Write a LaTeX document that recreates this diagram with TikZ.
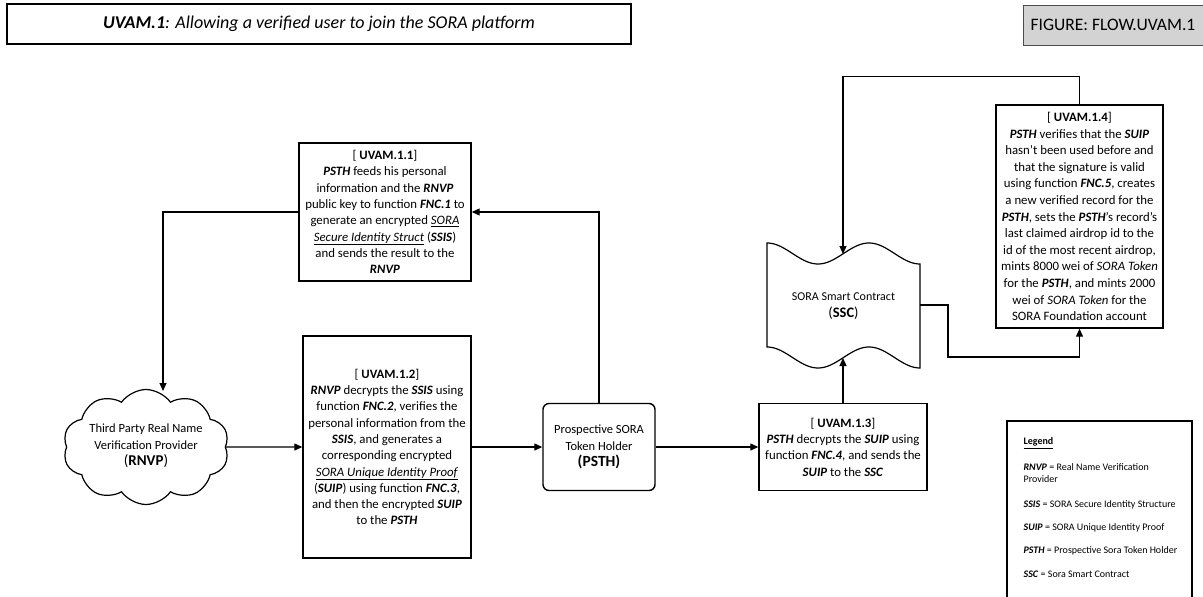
\documentclass[tikz,border=0pt]{standalone}
\usepackage{fontspec}
\setmainfont{Carlito}
\usetikzlibrary{shapes.symbols,arrows.meta}
\definecolor{figgray}{RGB}{211,211,211}
\newcommand{\bi}[1]{\textbf{\textit{#1}}}
\newcommand{\apos}{\char"27\relax}
\begin{document}
\begin{tikzpicture}[x=1pt,y=-1pt,line width=1.2pt,
  arr/.style={-{Triangle[length=8pt,width=7pt]}},
  stepbox/.style={draw,line width=1.4pt,align=center,inner sep=0pt,
    font=\fontsize{12.8}{16.3}\selectfont},
  plain/.style={align=center,inner sep=0pt,font=\fontsize{12.5}{16.5}\selectfont},
  lg/.style={anchor=west,inner sep=0pt,font=\fontsize{10}{11.5}\selectfont}]
\useasboundingbox (0,0) rectangle (1203,597);

% title and figure label
\node[draw,line width=1.4pt,minimum width=624pt,minimum height=40pt,inner sep=0pt,
  font=\fontsize{18}{21}\selectfont] (title) at (319,24)
  {\bi{UVAM.1}\textit{: Allowing a verified user to join the SORA platform}};
\node[draw=black!70,fill=figgray,line width=1pt,minimum width=180pt,minimum height=40pt,
  inner sep=0pt,font=\fontsize{17.5}{20}\selectfont] (fig) at (1113,25)
  {FIGURE: FLOW.UVAM.1};

% step boxes
\node[stepbox,minimum width=172pt,minimum height=138pt] (a11) at (385,212)
  {[ \textbf{UVAM.1.1}]\\
   \bi{PSTH} feeds his personal\\
   information and the \bi{RNVP}\\
   public key to function \bi{FNC.1} to\\
   generate an encrypted \underline{\textit{SORA}}\\
   \underline{\textit{Secure Identity Struct}} (\bi{SSIS})\\
   and sends the result to the\\
   \bi{RNVP}};

\node[stepbox,minimum width=168pt,minimum height=222pt] (a12) at (387,447)
  {[ \textbf{UVAM.1.2}]\\
   \bi{RNVP} decrypts the \bi{SSIS} using\\
   function \bi{FNC.2}, verifies the\\
   personal information from the\\
   \bi{SSIS}, and generates a\\
   corresponding encrypted\\
   \underline{\textit{SORA Unique Identity Proof}}\\
   (\bi{SUIP}) using function \bi{FNC.3},\\
   and then the encrypted \bi{SUIP}\\
   to the \bi{PSTH}};

\node[draw,line width=1.4pt,rounded corners=6pt,minimum width=112pt,minimum height=87pt,
  align=center,inner sep=0pt,font=\fontsize{12.5}{16.5}\selectfont] (psth) at (599,447)
  {Prospective SORA\\Token Holder\\{\fontsize{15.5}{18}\selectfont\textbf{(PSTH)}}};

\node[stepbox,minimum width=168pt,minimum height=87pt] (a13) at (843,447)
  {[ \textbf{UVAM.1.3}]\\
   \bi{PSTH} decrypts the \bi{SUIP} using\\
   function \bi{FNC.4}, and sends the\\
   \bi{SUIP} to the \bi{SSC}};

\node[stepbox,minimum width=167pt,minimum height=223pt,font=\fontsize{12.8}{16.6}\selectfont] (a14) at (1079.5,216.5)
  {[ \textbf{UVAM.1.4}]\\
   \bi{PSTH} verifies that the \bi{SUIP}\\
   hasn\apos t been used before and\\
   that the signature is valid\\
   using function \bi{FNC.5}, creates\\
   a new verified record for the\\
   \bi{PSTH}, sets the \bi{PSTH}\apos s record\apos s\\
   last claimed airdrop id to the\\
   id of the most recent airdrop,\\
   mints 8000 wei of \textit{SORA Token}\\
   for the \bi{PSTH}, and mints 2000\\
   wei of \textit{SORA Token} for the\\
   SORA Foundation account};

% cloud (RNVP)
\node[cloud,draw,cloud puffs=10,cloud puff arc=110,aspect=1.45,minimum width=166pt,
  minimum height=115pt,inner sep=0pt,line width=1.2pt] (cloud) at (146,447) {};
\node[plain] (cloudtxt) at (146,446)
  {Third Party Real Name\\Verification Provider\\{\fontsize{15}{18}\selectfont(\textbf{RNVP})}};

% SORA smart contract (tape)
\draw[line width=1.2pt]
  plot[domain=767:920,samples=80,smooth] (\x,{253.5-10.5*cos(3.5294*(\x-767))})
  -- plot[domain=920:767,samples=80,smooth] (\x,{357.5-10.5*cos(3.5294*(\x-767))})
  -- cycle;
\node[align=center,inner sep=0pt,font=\fontsize{12}{16.5}\selectfont] (ssc) at (843.5,306)
  {SORA Smart Contract\\{\fontsize{14.5}{18}\selectfont(\textbf{SSC})}};
\coordinate (ssctop) at (843,254);
\coordinate (sscbot) at (843,358);
\coordinate (sscright) at (920,305);
\coordinate (sscbend) at (948,357);
\coordinate (cloudtop) at (163,391);

% connectors
\draw[arr] (psth.north) |- (a11.east);
\draw[arr] (a11.west) -| (cloudtop);
\draw[arr] (cloud.east) -- (a12.west);
\draw[arr] (a12.east) -- (psth.west);
\draw[arr] (psth.east) -- (a13.west);
\draw[arr] (a13.north) -- (sscbot);
\draw[arr] (a14.north) -- ++(0,-28) -| (ssctop);
\draw[arr] (sscright) -| (sscbend) -| (a14.south);

% legend
\draw[line width=2.5pt] (1007,597) -- (1007,421) -- (1192,421) -- (1192,597);
\node[lg] (lg0) at (1023,443) {\underline{\textbf{Legend}}};
\node[lg] (lg1) at (1023,467) {\bi{RNVP} = Real Name Verification};
\node[lg] (lg2) at (1023,479) {Provider};
\node[lg] (lg3) at (1023,505) {\bi{SSIS} = SORA Secure Identity Structure};
\node[lg] (lg4) at (1023,528) {\bi{SUIP} = SORA Unique Identity Proof};
\node[lg] (lg5) at (1023,551) {\bi{PSTH} = Prospective Sora Token Holder};
\node[lg] (lg6) at (1023,574) {\bi{SSC} = Sora Smart Contract};
\end{tikzpicture}
\end{document}
